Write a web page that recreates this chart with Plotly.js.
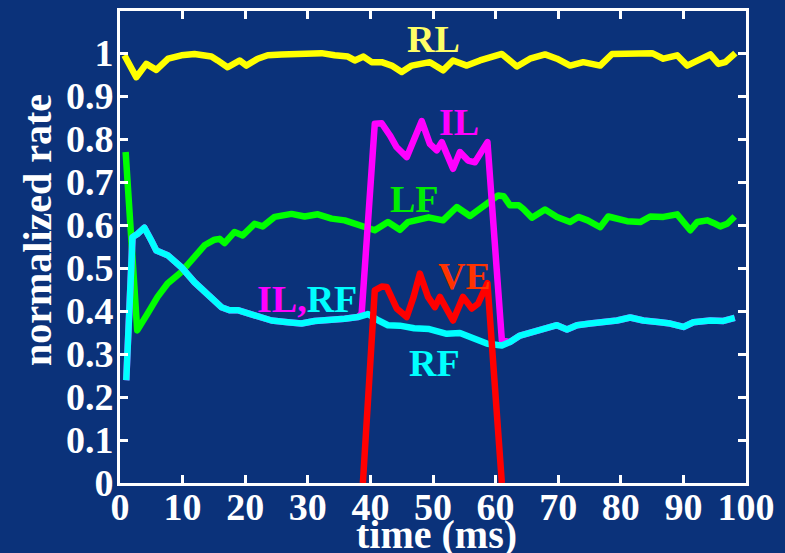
<!DOCTYPE html>
<html>
<head>
<meta charset="utf-8">
<script src="https://cdn.plot.ly/plotly-3.0.1.min.js"></script>
<style>
  html, body { margin: 0; padding: 0; background: #0b327a; }
  #chart { width: 785px; height: 553px; }
  #chart path.js-line { stroke-linejoin: round; }
</style>
</head>
<body>
<div id="chart"></div>
<script>
// Normalized firing rate of the five limb channels over the first 100 ms.

// RL (yellow)
const rlTime = [0.7, 2.6, 4.2, 5.8, 7.7, 9.8, 11.9, 14.6, 15.6, 17.2, 19.1, 20.2, 22.0, 23.6, 25.8, 29.0, 32.2, 34.3, 36.4, 37.5, 38.9, 40.2, 41.8, 43.4, 45.0, 46.6, 48.2, 49.5, 51.6, 53.2, 55.4, 57.5, 61.0, 63.4, 65.5, 67.9, 69.8, 71.9, 74.0, 76.7, 78.6, 81.5, 83.6, 85.0, 86.8, 89.0, 90.6, 92.2, 94.3, 95.6, 96.7, 98.3];
const rlRate = [0.995, 0.944, 0.975, 0.961, 0.987, 0.995, 0.998, 0.992, 0.983, 0.967, 0.983, 0.971, 0.987, 0.995, 0.997, 0.998, 1.0, 0.995, 0.992, 0.983, 0.992, 0.979, 0.979, 0.971, 0.956, 0.971, 0.975, 0.979, 0.960, 0.983, 0.971, 0.983, 0.998, 0.969, 0.987, 0.997, 0.987, 0.971, 0.979, 0.971, 0.998, 0.998, 0.998, 1.0, 0.987, 0.995, 0.971, 0.983, 0.997, 0.975, 0.979, 1.0];

// LF (green)
const lfTime = [0.9, 2.75, 4.4, 6.0, 7.6, 9.8, 11.9, 13.5, 15.1, 15.9, 16.7, 18.3, 19.6, 21.5, 22.8, 24.7, 27.4, 29.5, 31.6, 33.8, 35.9, 37.5, 39.4, 40.7, 42.8, 44.7, 46.0, 49.3, 51.6, 53.8, 55.9, 58.0, 60.4, 61.3, 62.3, 63.7, 64.4, 65.8, 67.9, 69.8, 71.9, 73.2, 74.7, 76.7, 78.0, 81.0, 83.1, 84.7, 86.8, 89.0, 91.1, 92.2, 93.8, 94.8, 95.9, 97.0, 98.2];
const lfRate = [0.770, 0.355, 0.394, 0.433, 0.464, 0.491, 0.526, 0.553, 0.566, 0.568, 0.558, 0.584, 0.576, 0.603, 0.597, 0.619, 0.626, 0.620, 0.625, 0.615, 0.611, 0.602, 0.594, 0.588, 0.607, 0.589, 0.607, 0.618, 0.611, 0.642, 0.621, 0.644, 0.669, 0.667, 0.646, 0.646, 0.638, 0.617, 0.636, 0.619, 0.607, 0.619, 0.611, 0.595, 0.620, 0.609, 0.607, 0.620, 0.619, 0.625, 0.588, 0.607, 0.611, 0.605, 0.597, 0.603, 0.620];

// RF (cyan)
const rfTime = [1.0, 2.0, 2.85, 3.9, 5.0, 5.8, 7.6, 9.8, 11.9, 14.0, 16.2, 17.5, 18.8, 21.5, 24.2, 26.8, 29.0, 31.1, 33.2, 35.9, 38.0, 39.6, 41.3, 42.8, 44.7, 47.0, 49.4, 52.2, 54.3, 56.4, 58.7, 61.0, 62.3, 63.9, 66.0, 68.2, 69.8, 71.4, 73.0, 75.1, 77.2, 79.4, 81.5, 83.6, 86.3, 87.9, 90.0, 91.6, 94.3, 96.4, 98.2];
const rfRate = [0.239, 0.572, 0.580, 0.594, 0.564, 0.541, 0.530, 0.502, 0.467, 0.437, 0.409, 0.402, 0.402, 0.390, 0.378, 0.374, 0.371, 0.377, 0.378, 0.382, 0.386, 0.393, 0.378, 0.367, 0.366, 0.360, 0.358, 0.347, 0.349, 0.336, 0.324, 0.320, 0.328, 0.343, 0.351, 0.363, 0.367, 0.357, 0.367, 0.371, 0.374, 0.378, 0.385, 0.378, 0.374, 0.371, 0.363, 0.374, 0.378, 0.377, 0.384];

// IL (magenta): follows RF except during the 39-61 ms stimulus window
const ilPulseTime = [38.6, 40.7, 41.8, 43.1, 44.2, 45.8, 46.9, 48.2, 49.5, 50.6, 51.4, 53.2, 54.3, 55.6, 56.7, 57.5, 58.7, 61.0];
const ilPulseRate = [0.394, 0.836, 0.837, 0.809, 0.781, 0.758, 0.797, 0.842, 0.789, 0.774, 0.793, 0.731, 0.770, 0.750, 0.746, 0.766, 0.793, 0.332];

// VE (red): active only during the stimulus window
const veTime = [38.8, 40.7, 41.8, 42.6, 44.2, 45.8, 46.9, 47.9, 49.2, 50.3, 51.1, 53.2, 54.8, 56.2, 57.2, 58.7, 61.0];
const veRate = [0, 0.448, 0.457, 0.456, 0.406, 0.386, 0.433, 0.487, 0.433, 0.409, 0.433, 0.378, 0.433, 0.406, 0.417, 0.465, 0];

// Axis ticks
const xTicks = [0, 10, 20, 30, 40, 50, 60, 70, 80, 90, 100];
const yTicks = [0, 0.1, 0.2, 0.3, 0.4, 0.5, 0.6, 0.7, 0.8, 0.9, 1];
const yTickText = ['0', '0.1', '0.2', '0.3', '0.4', '0.5', '0.6', '0.7', '0.8', '0.9', '1'];

// Assemble the IL trace from the shared RF segments and its own pulse
const pulseStart = ilPulseTime[0];
const pulseEnd = ilPulseTime[ilPulseTime.length - 1];
const ilTime = [], ilRate = [];
rfTime.forEach((t, i) => { if (t < pulseStart) { ilTime.push(t); ilRate.push(rfRate[i]); } });
ilPulseTime.forEach((t, i) => { ilTime.push(t); ilRate.push(ilPulseRate[i]); });
rfTime.forEach((t, i) => { if (t > pulseEnd) { ilTime.push(t); ilRate.push(rfRate[i]); } });

const BG = '#0b327a';
const SERIF = 'Liberation Serif, Times New Roman, Times, serif';
const LW = 6.5;

function line(x, y, color, name) {
  return { x, y, name, type: 'scatter', mode: 'lines',
           line: { color, width: LW, shape: 'linear' }, hoverinfo: 'skip' };
}

const traces = [
  line(rlTime, rlRate, '#ffff00', 'RL'),
  line(lfTime, lfRate, '#00ff00', 'LF'),
  line(ilTime, ilRate, '#ff00ff', 'IL'),
  line(rfTime, rfRate, '#00ffff', 'RF'),
  line(veTime, veRate, '#ff0000', 'VE')
];

function label(text, x, y, color) {
  return { text, x, y, xref: 'x', yref: 'y', showarrow: false,
           xanchor: 'center', yanchor: 'middle',
           font: { family: SERIF, size: 38, color, weight: 'bold' } };
}

const tickFont = { family: SERIF, size: 38, color: '#ffffff', weight: 'bold' };

const layout = {
  width: 785, height: 553,
  paper_bgcolor: BG, plot_bgcolor: BG,
  margin: { l: 120, r: 39, t: 11, b: 70 },
  showlegend: false,
  font: { family: SERIF, size: 38, color: '#ffffff', weight: 'bold' },
  xaxis: {
    range: [0, 100], tickvals: xTicks, ticktext: xTicks.map(String),
    ticks: 'inside', ticklen: 8, tickwidth: 3, tickcolor: '#ffffff',
    ticklabelstandoff: -12,
    showline: true, linewidth: 3, linecolor: '#ffffff', mirror: 'ticks',
    showgrid: false, zeroline: false, automargin: false,
    tickfont: tickFont
  },
  yaxis: {
    range: [0, 1.098], tickvals: yTicks, ticktext: yTickText,
    ticks: 'inside', ticklen: 8, tickwidth: 3, tickcolor: '#ffffff',
    ticklabelstandoff: -4,
    showline: true, linewidth: 3, linecolor: '#ffffff', mirror: 'ticks',
    showgrid: false, zeroline: false, automargin: false,
    tickfont: tickFont
  },
  annotations: [
    { text: 'time (ms)', xref: 'paper', yref: 'paper', x: 0.505, y: -0.11,
      xanchor: 'center', yanchor: 'middle', showarrow: false,
      font: { family: SERIF, size: 40, color: '#ffffff', weight: 'bold' } },
    { text: 'normalized rate', xref: 'paper', yref: 'paper', x: -0.1326, y: 0.536,
      xanchor: 'center', yanchor: 'middle', textangle: -90, showarrow: false,
      font: { family: SERIF, size: 40, color: '#ffffff', weight: 'bold' } },
    label('RL', 50.0, 1.032, '#ffff66'),
    label('IL', 54.2, 0.840, '#ff00ff'),
    label('LF', 47.1, 0.661, '#00ee00'),
    label('VE', 55.1, 0.481, '#ff3300'),
    label('RF', 50.2, 0.280, '#00ffff'),
    label('<span style="color:#ff00ff">IL,</span><span style="color:#00ffff">RF</span>', 29.9, 0.427, '#00ffff')
  ]
};

Plotly.newPlot('chart', traces, layout, { staticPlot: true, displayModeBar: false });
</script>
</body>
</html>
